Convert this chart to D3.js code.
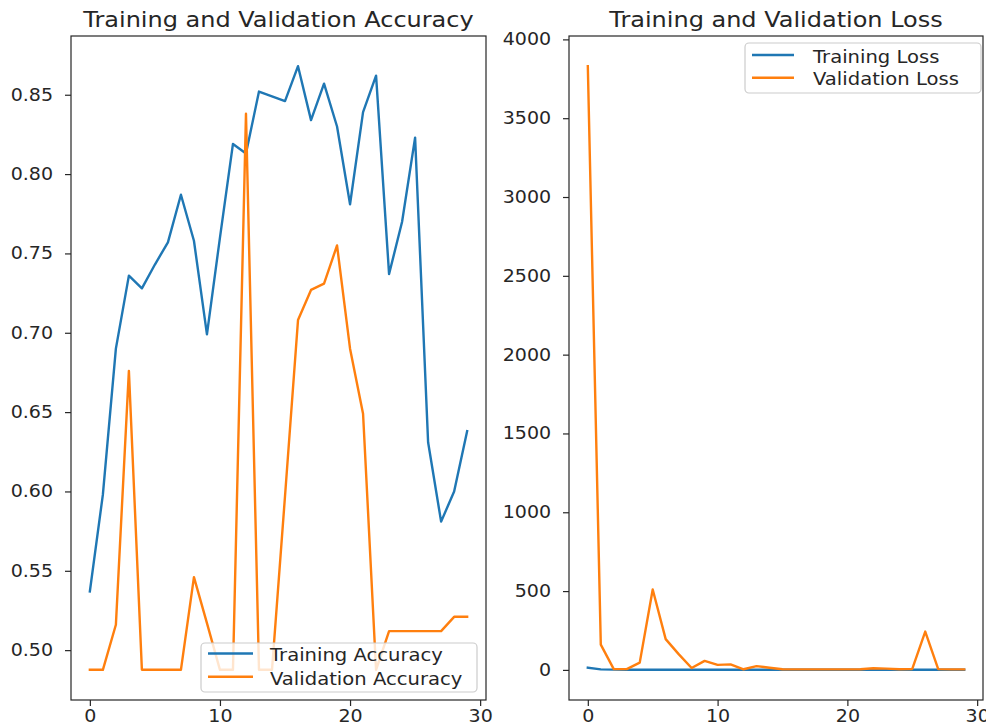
<!DOCTYPE html>
<html>
<head>
<meta charset="utf-8">
<script src="https://cdn.jsdelivr.net/npm/d3@7"></script>
<style>
  body { margin: 0; background: #fff; }
  svg { display: block; }
  text { font-family: "DejaVu Sans", sans-serif; fill: #262626; }
</style>
</head>
<body>
<svg id="chart" width="986" height="727"></svg>
<script>
// Epoch index on the x axis
const epochs = [0, 1, 2, 3, 4, 5, 6, 7, 8, 9, 10, 11, 12, 13, 14, 15, 16, 17, 18, 19,
                20, 21, 22, 23, 24, 25, 26, 27, 28, 29];

// Accuracy per epoch
const trainAcc = [0.537, 0.598, 0.690, 0.736, 0.728, 0.743, 0.757, 0.787, 0.758, 0.699,
                  0.760, 0.819, 0.813, 0.852, 0.849, 0.846, 0.868, 0.834, 0.857, 0.830,
                  0.781, 0.839, 0.862, 0.737, 0.770, 0.823, 0.631, 0.581, 0.600, 0.638];
const valAcc = [0.4876, 0.4876, 0.516, 0.676, 0.4876, 0.4876, 0.4876, 0.4876, 0.546, 0.517,
                0.4876, 0.4876, 0.838, 0.4876, 0.4876, 0.597, 0.708, 0.727, 0.731, 0.755,
                0.690, 0.649, 0.4876, 0.512, 0.512, 0.512, 0.512, 0.512, 0.521, 0.521];

// Loss per epoch
const trainLoss = [14, 3, 1.5, 1.0, 0.8, 0.7, 0.7, 0.6, 0.6, 0.6,
                   0.6, 0.5, 0.5, 0.5, 0.5, 0.5, 0.5, 0.5, 0.5, 0.5,
                   0.5, 0.5, 0.5, 0.6, 0.6, 0.6, 0.7, 0.7, 0.7, 0.7];
const valLoss = [3830, 160, 5, 5, 46, 510, 195, 100, 12, 57,
                 32, 35, 4, 24, 14, 4, 3, 3, 3, 3,
                 3, 4, 10, 8, 4, 6, 243, 5, 3, 3];

// Tick values
const epochTicks = [0, 10, 20, 30];
const accTicks = [0.50, 0.55, 0.60, 0.65, 0.70, 0.75, 0.80, 0.85];
const lossTicks = [0, 500, 1000, 1500, 2000, 2500, 3000, 3500, 4000];

const BLUE = "#1f77b4", ORANGE = "#ff7f0e";
const TEXT_SX = 1.12;   // horizontal text stretch
const TITLE_SX = 1.17;

const svg = d3.select("#chart");
const plotTop = 36, plotBottom = 700;

// 5% padding on each side of the data range
function padded(lo, hi) {
  const m = (hi - lo) * 0.05;
  return [lo - m, hi + m];
}

const panels = [
  {
    title: "Training and Validation Accuracy",
    left: 71, right: 486,
    series: [
      { name: "Training Accuracy", values: trainAcc, color: BLUE },
      { name: "Validation Accuracy", values: valAcc, color: ORANGE }
    ],
    ticks: accTicks, fmt: d3.format(".2f"),
    legend: { x: 201, y: 643, w: 276, h: 49, row0: 653.5, rowGap: 23.3, handle: 45, gap: 17 }
  },
  {
    title: "Training and Validation Loss",
    left: 569, right: 983,
    series: [
      { name: "Training Loss", values: trainLoss, color: BLUE },
      { name: "Validation Loss", values: valLoss, color: ORANGE }
    ],
    ticks: lossTicks, fmt: d3.format("d"),
    legend: { x: 745, y: 43, w: 236, h: 50, row0: 55, rowGap: 22.7, handle: 42, gap: 19 }
  }
];

panels.forEach(p => {
  const g = svg.append("g");
  const all = p.series.flatMap(s => s.values);
  const x = d3.scaleLinear().domain(padded(d3.min(epochs), d3.max(epochs))).range([p.left, p.right]);
  const y = d3.scaleLinear().domain(padded(d3.min(all), d3.max(all))).range([plotBottom, plotTop]);

  // Axes
  const ya = g.append("g").attr("transform", `translate(${p.left},0)`)
    .call(d3.axisLeft(y).tickValues(p.ticks).tickFormat(p.fmt).tickSize(6).tickPadding(10));
  const xa = g.append("g").attr("transform", `translate(0,${plotBottom})`)
    .call(d3.axisBottom(x).tickValues(epochTicks).tickFormat(d3.format("d")).tickSize(6).tickPadding(4));
  [ya, xa].forEach(a => {
    a.select(".domain").remove();
    a.selectAll(".tick line").attr("stroke", "#262626").attr("stroke-width", 1.2);
    a.selectAll(".tick text")
      .attr("font-size", 17)
      .attr("fill", "#262626")
      .attr("transform", `scale(${TEXT_SX},1)`);
  });

  // Data lines
  const line = d3.line().x((d, i) => x(epochs[i])).y(d => y(d));
  p.series.forEach(s => {
    g.append("path")
      .datum(s.values)
      .attr("d", line)
      .attr("fill", "none")
      .attr("stroke", s.color)
      .attr("stroke-width", 2.4)
      .attr("stroke-linejoin", "round")
      .attr("stroke-linecap", "square");
  });

  // Frame
  g.append("rect")
    .attr("x", p.left).attr("y", plotTop)
    .attr("width", p.right - p.left).attr("height", plotBottom - plotTop)
    .attr("fill", "none").attr("stroke", "#262626").attr("stroke-width", 1.2);

  // Title
  g.append("text")
    .attr("transform", `translate(${(p.left + p.right) / 2},27) scale(${TITLE_SX},1)`)
    .attr("text-anchor", "middle")
    .attr("font-size", 20.5)
    .text(p.title);

  // Legend
  const L = p.legend;
  const lg = g.append("g");
  lg.append("rect")
    .attr("x", L.x).attr("y", L.y).attr("width", L.w).attr("height", L.h)
    .attr("rx", 4).attr("ry", 4)
    .attr("fill", "#fff").attr("fill-opacity", 0.8)
    .attr("stroke", "#cccccc").attr("stroke-width", 1.2);
  p.series.forEach((s, i) => {
    const cy = L.row0 + i * L.rowGap;
    const hx = L.x + 7;
    lg.append("line")
      .attr("x1", hx).attr("x2", hx + L.handle)
      .attr("y1", cy).attr("y2", cy)
      .attr("stroke", s.color).attr("stroke-width", 2.4);
    lg.append("text")
      .attr("transform", `translate(${hx + L.handle + L.gap},${cy}) scale(${TEXT_SX},1)`)
      .attr("dy", "0.44em")
      .attr("font-size", 17.5)
      .text(s.name);
  });
});
</script>
</body>
</html>
